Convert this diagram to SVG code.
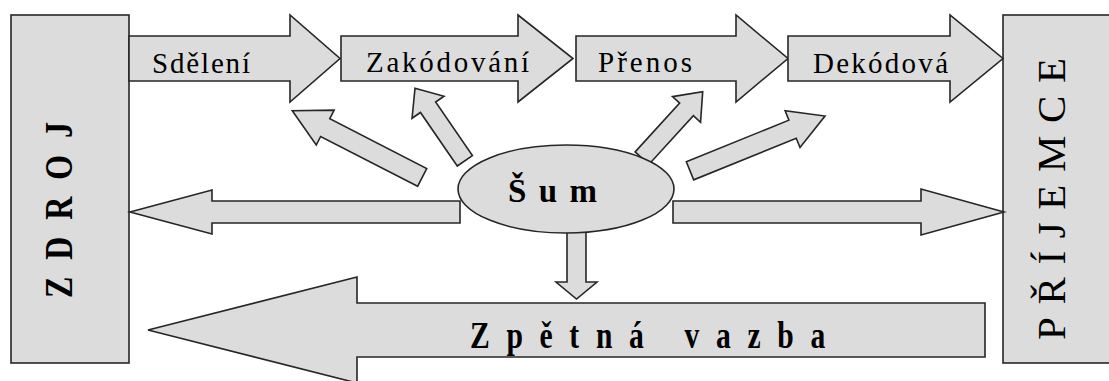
<svg xmlns="http://www.w3.org/2000/svg" width="1109" height="381" viewBox="0 0 1109 381">
  <style>
    .shape { fill: #dcdcdc; stroke: #262626; stroke-width: 1.6; stroke-linejoin: miter; }
    .lbl { font-family: "Liberation Serif", "Times New Roman", serif; fill: #000; }
    .step { font-size: 29px; }
    .bold { font-weight: bold; }
  </style>
  <rect x="0" y="0" width="1109" height="381" fill="#ffffff"/>

  <!-- Source -->
  <g id="zdroj">
    <rect class="shape" x="11" y="15" width="118" height="348"/>
    <text class="lbl bold" font-size="40" transform="translate(72,298) rotate(-90) scale(0.8,1)" textLength="220" lengthAdjust="spacing">ZDROJ</text>
  </g>

  <!-- Receiver -->
  <g id="prijemce">
    <rect class="shape" x="1003" y="15" width="120" height="348"/>
    <text class="lbl" font-size="41" transform="translate(1065,340) rotate(-90)" textLength="282" lengthAdjust="spacing">PŘÍJEMCE</text>
  </g>

  <!-- Process steps along the top -->
  <g id="sdeleni">
    <polygon class="shape" points="129,36 290,36 290,15 340,58.5 290,102 290,81 129,81"/>
    <text class="lbl step" x="152" y="72.5" textLength="98" lengthAdjust="spacing">Sdělení</text>
  </g>
  <g id="zakodovani">
    <polygon class="shape" points="341,36 518,36 518,15 573,58.5 518,102 518,81 341,81"/>
    <text class="lbl step" x="366" y="72" textLength="163" lengthAdjust="spacing">Zakódování</text>
  </g>
  <g id="prenos">
    <polygon class="shape" points="576,36 736,36 736,15 788,58.5 736,102 736,81 576,81"/>
    <text class="lbl step" x="598" y="72" textLength="94" lengthAdjust="spacing">Přenos</text>
  </g>
  <g id="dekodova">
    <polygon class="shape" points="788,36 950,36 950,15 1003,58.5 950,102 950,81 788,81"/>
    <text class="lbl step" x="813" y="72.5" textLength="135" lengthAdjust="spacing">Dekódová</text>
  </g>

  <!-- Feedback -->
  <g id="zpetna-vazba">
    <polygon class="shape" points="985,303 357,303 357,277 148,330 357,383 357,357 985,357"/>
    <text class="lbl bold" font-size="37" transform="translate(470,348) scale(0.8,1)" textLength="444" lengthAdjust="spacing">Zpětná vazba</text>
  </g>

  <!-- Noise influences -->
  <g id="connectors">
    <polygon class="shape" transform="translate(292.3,110.7) rotate(-152.8)" points="-146,-10 -37,-10 -37,-19.6 0,0 -37,19.6 -37,10 -146,10"/>
    <polygon class="shape" transform="translate(415,88.3) rotate(-124.5)" points="-88,-9.2 -23,-9.2 -23,-19.4 0,0 -23,19.4 -23,9.2 -88,9.2"/>
    <polygon class="shape" transform="translate(702.7,91.7) rotate(-47.6)" points="-90,-9.3 -24,-9.3 -24,-19 0,0 -24,19 -24,9.3 -90,9.3"/>
    <polygon class="shape" transform="translate(825,116) rotate(-22.1)" points="-145.7,-9.75 -35,-9.75 -35,-19.8 0,0 -35,19.8 -35,9.75 -145.7,9.75"/>
    <polygon class="shape" points="460,201 212,201 212,190 130,212 212,234 212,223 460,223"/>
    <polygon class="shape" points="673,201 921,201 921,189 1004,212 921,235 921,223 673,223"/>
    <polygon class="shape" points="567,222 586,222 586,282 597,282 576.5,299 556,282 567,282"/>
  </g>

  <!-- Noise -->
  <g id="sum">
    <ellipse class="shape" cx="566" cy="189" rx="108" ry="44"/>
    <text class="lbl bold" font-size="33" x="508" y="202" textLength="89" lengthAdjust="spacing">Šum</text>
  </g>
</svg>
